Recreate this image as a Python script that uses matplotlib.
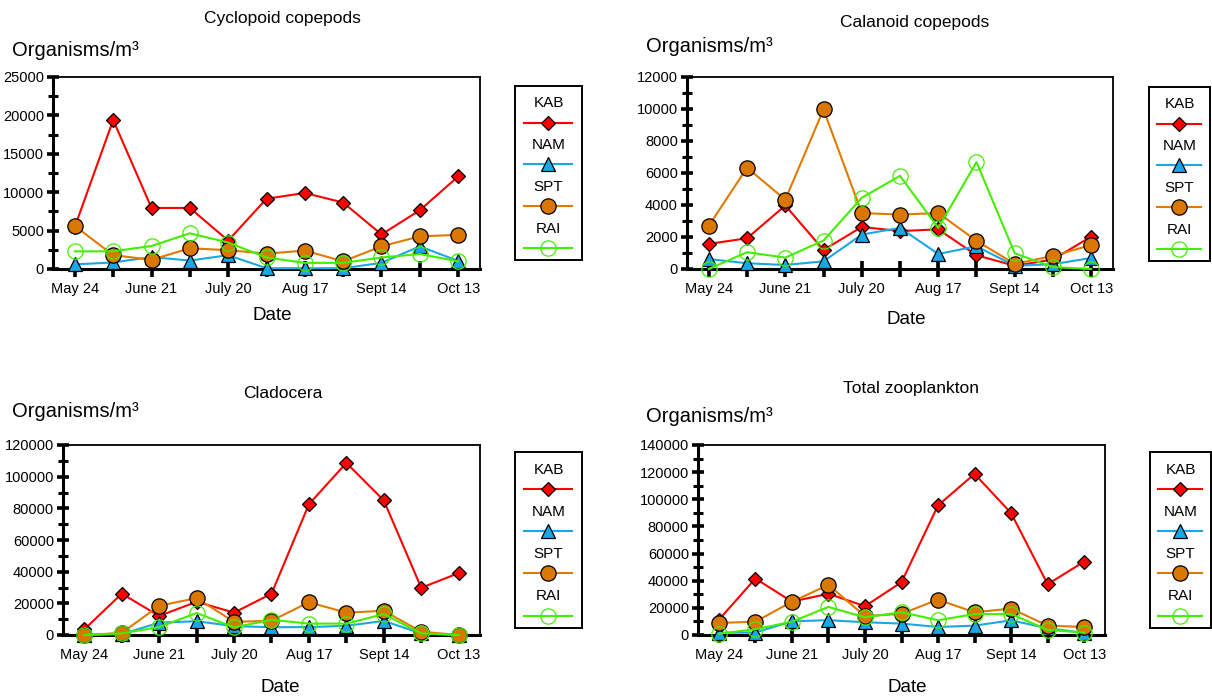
import matplotlib
matplotlib.use("Agg")
import matplotlib.pyplot as plt
from matplotlib.lines import Line2D
from matplotlib.ticker import MultipleLocator
import numpy as np

plt.rcParams['font.family'] = ['Liberation Sans', 'DejaVu Sans']

# sampling dates, every two weeks; only every other one gets a label
dates = ["May 24", "June 7", "June 21", "July 5", "July 20", "Aug 3",
         "Aug 17", "Aug 31", "Sept 14", "Sept 28", "Oct 13"]
sites = ["KAB", "NAM", "SPT", "RAI"]

# organisms per m3 at each site
cyclo_kab = [5500, 19400, 7950, 7950, 3700, 9150, 9900, 8650, 4500, 7650, 12050]
cyclo_nam = [600, 850, 1550, 1100, 1800, 100, 100, 100, 800, 2950, 1050]
cyclo_spt = [5600, 1800, 1200, 2700, 2450, 2000, 2400, 1000, 2950, 4250, 4450]
cyclo_rai = [2300, 2300, 3000, 4650, 3450, 1500, 800, 800, 1500, 1950, 1000]

calan_kab = [1570, 1920, 3970, 1190, 2630, 2370, 2480, 860, 200, 590, 2030]
calan_nam = [620, 360, 250, 480, 2150, 2570, 940, 1420, 200, 300, 690]
calan_spt = [2700, 6330, 4330, 9970, 3500, 3400, 3500, 1760, 320, 820, 1500]
calan_rai = [0, 1050, 710, 1780, 4450, 5820, 2570, 6680, 980, 120, 0]

clado_kab = [3600, 26100, 12000, 21000, 14100, 26100, 82600, 108700, 85000, 29800, 39100]
clado_nam = [0, 500, 7800, 8700, 5600, 4900, 5000, 5800, 8900, 1000, 0]
clado_spt = [0, 1300, 18500, 23300, 8300, 9000, 20700, 14100, 15300, 2100, 0]
clado_rai = [0, 1000, 5000, 13900, 4800, 9600, 7200, 7200, 13200, 1000, 0]

total_kab = [11200, 41600, 24600, 30400, 21200, 38900, 95500, 118700, 89800, 37400, 54100]
total_nam = [1700, 1800, 10100, 10900, 9400, 8400, 5900, 6900, 10800, 5000, 1500]
total_spt = [8900, 9800, 24500, 36900, 13900, 15600, 26100, 16700, 19500, 6900, 5900]
total_rai = [1000, 4200, 9800, 20700, 13000, 16800, 10900, 15400, 15400, 3800, 1700]

W, H = 1212, 698

# per site: line colour, marker, face colour, marker size
styles = {
    "KAB": dict(color="#ff0000", marker="D", mfc="#ff0000", ms=7.5),
    "NAM": dict(color="#1aa7e6", marker="^", mfc="#1aa7e6", ms=10),
    "SPT": dict(color="#e07a00", marker="o", mfc="#d97700", ms=11),
    "RAI": dict(color="#44ee00", marker="o", mfc="none", ms=11),
}

# panel boxes in pixels: left, top, right, bottom
panels = [
    dict(title="Cyclopoid copepods", series=[cyclo_kab, cyclo_nam, cyclo_spt, cyclo_rai],
         box=(53, 77, 480, 269), ymax=25000, step=5000,
         title_xy=(282, 18), unit_xy=(12, 50), date_xy=(272, 316), leg=(515, 86, 582, 260)),
    dict(title="Calanoid copepods", series=[calan_kab, calan_nam, calan_spt, calan_rai],
         box=(687, 77, 1113, 269), ymax=12000, step=2000,
         title_xy=(915, 22), unit_xy=(646, 46), date_xy=(906, 320), leg=(1149, 87, 1210, 261)),
    dict(title="Cladocera", series=[clado_kab, clado_nam, clado_spt, clado_rai],
         box=(63, 445, 480, 635), ymax=120000, step=20000,
         title_xy=(283, 394), unit_xy=(12, 411), date_xy=(280, 688), leg=(515, 452, 582, 628)),
    dict(title="Total zooplankton", series=[total_kab, total_nam, total_spt, total_rai],
         box=(698, 445, 1105, 635), ymax=140000, step=20000,
         title_xy=(911, 389), unit_xy=(646, 417), date_xy=(907, 688), leg=(1150, 452, 1211, 628)),
]

fig = plt.figure(figsize=(W / 100, H / 100), dpi=100)
fig.patch.set_facecolor("white")


def fx(px):
    return px / W


def fy(py):
    return 1 - py / H


x = np.arange(len(dates))

for p in panels:
    l, t, r, b = p["box"]
    ax = fig.add_axes([fx(l), fy(b), fx(r - l), (b - t) / H])
    for name, vals in zip(sites, p["series"]):
        s = styles[name]
        ax.plot(x, vals, color=s["color"], lw=1.5, marker=s["marker"], ms=s["ms"],
                mfc=s["mfc"], mec="black" if name != "RAI" else s["color"],
                mew=0.9, clip_on=False, zorder=3)
    ax.set_xlim(-0.57, len(dates) - 1 + 0.57)
    ax.set_ylim(0, p["ymax"])
    ax.set_xticks(x)
    ax.set_xticklabels([d if i % 2 == 0 else "" for i, d in enumerate(dates)], fontsize=10.5)
    ax.yaxis.set_major_locator(MultipleLocator(p["step"]))
    ax.yaxis.set_minor_locator(MultipleLocator(p["step"] / 2))
    ax.tick_params(axis="x", direction="inout", length=11, width=2.6, pad=4)
    ax.tick_params(axis="y", which="major", direction="inout", length=9, width=2.6, pad=2, labelsize=10.5)
    ax.tick_params(axis="y", which="minor", direction="inout", length=7, width=2.2)
    for side in ["left", "bottom"]:
        ax.spines[side].set_linewidth(2.2)
    for side in ["top", "right"]:
        ax.spines[side].set_linewidth(1.3)

    fig.text(fx(p["title_xy"][0]), fy(p["title_xy"][1]), p["title"],
             ha="center", va="center", fontsize=12.5)
    fig.text(fx(p["unit_xy"][0]), fy(p["unit_xy"][1]), "Organisms/m\u00b3",
             ha="left", va="center", fontsize=14.5)
    fig.text(fx(p["date_xy"][0]), fy(p["date_xy"][1]), "Date",
             ha="center", va="center", fontsize=13.5)

    # boxed key: site name above its line sample
    ll, lt, lr, lb = p["leg"]
    lax = fig.add_axes([fx(ll), fy(lb), fx(lr - ll), (lb - lt) / H])
    lax.set_xlim(0, 1)
    lax.set_ylim(0, 1)
    lax.set_xticks([])
    lax.set_yticks([])
    for sp in lax.spines.values():
        sp.set_linewidth(1.4)
    for i, name in enumerate(sites):
        s = styles[name]
        ty = 0.90 - i * 0.24
        ly = 0.79 - i * 0.24
        lax.text(0.5, ty, name, ha="center", va="center", fontsize=11)
        lax.add_line(Line2D([0.13, 0.85], [ly, ly], color=s["color"], lw=1.5))
        lax.add_line(Line2D([0.49], [ly], marker=s["marker"], ms=s["ms"], mfc=s["mfc"],
                            mec="black" if name != "RAI" else s["color"], mew=0.9, lw=0))

fig.savefig("out.png", dpi=100, facecolor="white")
